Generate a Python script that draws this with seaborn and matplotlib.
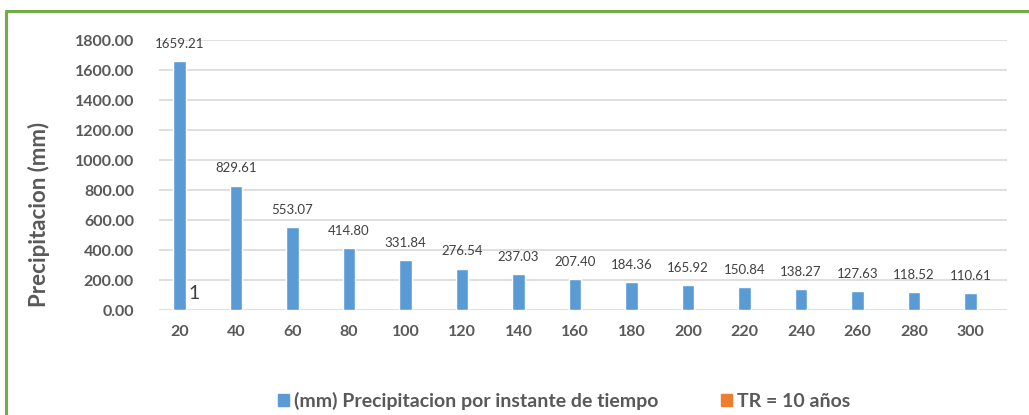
import numpy as np
import pandas as pd
import matplotlib
matplotlib.use("Agg")
import matplotlib.pyplot as plt
import matplotlib.patches as mpatches
from matplotlib.lines import Line2D
import seaborn as sns

tiempo = [20, 40, 60, 80, 100, 120, 140, 160, 180, 200, 220, 240, 260, 280, 300]
precip = [1659.21, 829.61, 553.07, 414.80, 331.84, 276.54, 237.03, 207.40,
          184.36, 165.92, 150.84, 138.27, 127.63, 118.52, 110.61]
serie_1 = "(mm) Precipitacion por instante de tiempo"
serie_2 = "TR = 10 años"

df = pd.DataFrame({"tiempo": [str(t) for t in tiempo], "precip": precip})

sns.set_style("white")
plt.rcParams['font.family'] = ['Lato', 'DejaVu Sans']

fig = plt.figure(figsize=(10.29, 4.15), dpi=100)
ax = fig.add_axes([159 / 1029, 1 - 310 / 415, 848 / 1029, 270 / 415])

sns.barplot(data=df, x="tiempo", y="precip", color="#5B9BD5", width=0.22,
            saturation=1, ax=ax, zorder=3)

ax.set_xlim(-0.363, 14.646)
ax.set_ylim(0, 1800)
ax.set_yticks(np.arange(0, 1801, 200))
ax.set_yticklabels([f"{v:.2f}" for v in np.arange(0, 1801, 200)])
ax.yaxis.grid(True, color="#D9D9D9", linewidth=1.2, zorder=0)
for s in ax.spines.values():
    s.set_visible(False)
ax.tick_params(axis="both", length=0, labelsize=11.5, labelcolor="#595959")
ax.tick_params(axis="x", pad=11)
ax.tick_params(axis="y", pad=18)
for lbl in ax.get_xticklabels() + ax.get_yticklabels():
    lbl.set_fontweight("bold")

for i, v in enumerate(precip):
    ax.annotate(f"{v:.2f}", (i, v), xytext=(0, 8), textcoords="offset points",
                ha="center", va="bottom", fontsize=9.5, color="#404040")

ax.set_xlabel("")
ax.set_ylabel("Precipitacion (mm)", fontsize=16, fontweight="bold", color="#595959")
ax.yaxis.set_label_coords((50 - 159) / 848, (310 - 214) / 270)
ax.text(0.15, 110, "1", fontsize=14, color="#404040", ha="left", va="center")

handles = [mpatches.Patch(color="#5B9BD5", label=serie_1),
           mpatches.Patch(color="#ED7D31", label=serie_2)]
fig.legend(handles=handles, loc="center", bbox_to_anchor=(564 / 1029, 1 - 401 / 415),
           ncol=2, frameon=False, handlelength=0.6, handleheight=0.6, handletextpad=0.25,
           columnspacing=3.2, prop={"weight": "bold", "size": 14}, labelcolor="#595959")

# chart border (only top and left edges visible)
fig.add_artist(Line2D([6 / 1029, 6 / 1029], [0, 1 - 11 / 415], color="#70AD47", linewidth=2.2))
fig.add_artist(Line2D([6 / 1029, 1], [1 - 11 / 415, 1 - 11 / 415], color="#70AD47", linewidth=2.2))

fig.savefig("out.png", dpi=100, facecolor="white")
